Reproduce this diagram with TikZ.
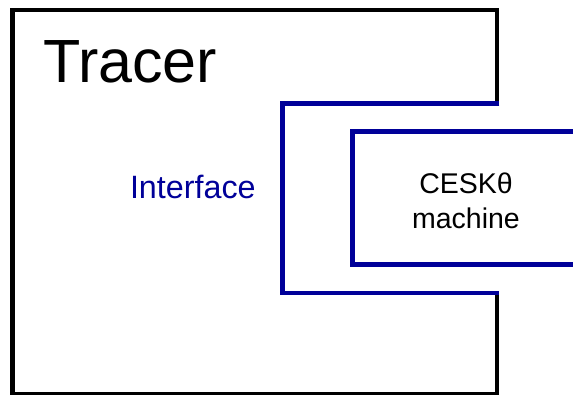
\documentclass[tikz,border=0pt]{standalone}
\usepackage{fontspec}
\setmainfont{Liberation Sans}
\definecolor{ifaceblue}{RGB}{0,0,153}
\begin{document}
\begin{tikzpicture}[x=1pt,y=1pt,
  tracerline/.style={draw=black,line width=4.6pt},
  ifaceline/.style={draw=ifaceblue,line width=4.6pt},
  label/.style={inner sep=0pt,outer sep=0pt}]
\useasboundingbox (0,0) rectangle (573,395);
% outer tracer box, open where the interface cuts in
\draw[tracerline] (497,291.5) -- (497,385) -- (12.5,385) -- (12.5,0.8)
  -- (497,0.8) -- (497,102);
% interface outline
\draw[ifaceline,line join=miter] (499.3,291.5) -- (282.5,291.5) -- (282.5,102) -- (499.3,102);
% machine box, running off the right edge
\draw[ifaceline,line join=miter] (580,263.5) -- (352.5,263.5) -- (352.5,130.5) -- (580,130.5);
% labels
\node[label,anchor=base west,font=\fontsize{61}{63}\selectfont] (tracer) at (43,312) {Tracer};
\node[label,anchor=base west,text=ifaceblue,font=\fontsize{32.3}{35}\selectfont] (iface) at (130,196) {Interface};
\node[label,align=center,font=\fontsize{28.5}{35}\selectfont] (machine) at (466,194.5) {CESKθ\\machine};
\end{tikzpicture}
\end{document}
